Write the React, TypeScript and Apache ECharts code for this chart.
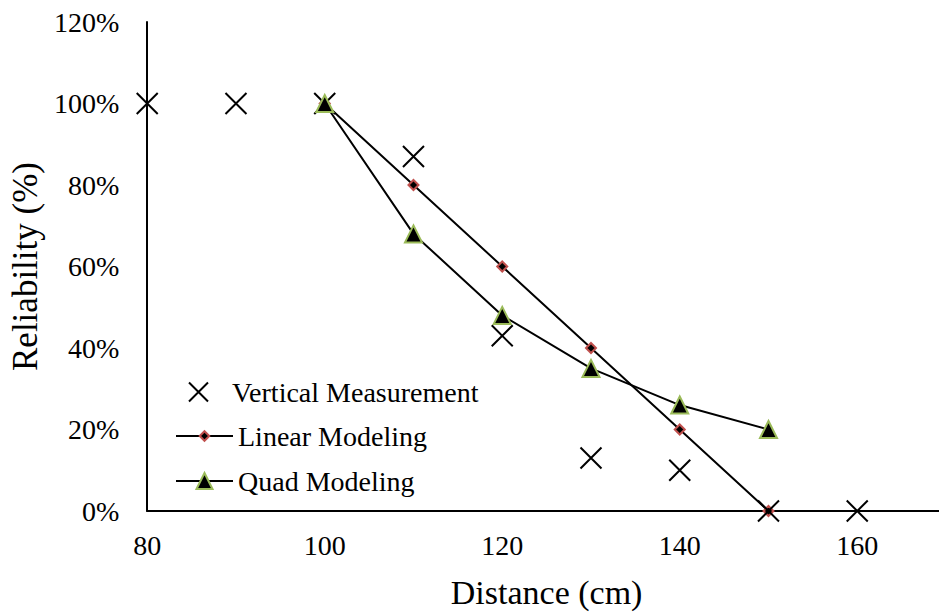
import React, { useEffect, useRef } from "react";
import * as echarts from "echarts";

const distances = [80, 90, 100, 110, 120, 130, 140, 150, 160];
const verticalMeasurement = [100, 100, 100, 87, 43, 13, 10, 0, 0];
const modelDistances = [100, 110, 120, 130, 140, 150];
const linearModeling = [100, 80, 60, 40, 20, 0];
const quadModeling = [100, 68, 48, 35, 26, 20];
const seriesNames = ["Vertical Measurement", "Linear Modeling", "Quad Modeling"];

const FONT = "'Liberation Serif', 'Times New Roman', serif";
const X_PATH = "path://M0,0L20,20M20,0L0,20";

export default function App() {
  const ref = useRef<HTMLDivElement>(null);
  useEffect(() => {
    if (!ref.current) return;
    const chart = echarts.init(ref.current, undefined, { renderer: "svg" });
    const pair = (xs: number[], ys: number[]) => xs.map((x, i) => [x, ys[i]]);
    const legendBase = {
      orient: "vertical" as const,
      left: 170,
      itemWidth: 57,
      itemGap: 0,
      textStyle: { fontFamily: FONT, fontSize: 28, color: "#000" },
      selectedMode: false,
    };
    chart.setOption({
      animation: false,
      backgroundColor: "#fff",
      grid: { left: 145, right: 0, top: 22, bottom: 102 },
      xAxis: {
        type: "value",
        min: 80,
        max: 170,
        interval: 20,
        name: "Distance (cm)",
        nameLocation: "middle",
        nameGap: 64,
        nameTextStyle: { fontFamily: FONT, fontSize: 34, color: "#000" },
        axisLine: { show: true, lineStyle: { color: "#000", width: 2 } },
        axisTick: { show: false },
        splitLine: { show: false },
        axisLabel: {
          fontFamily: FONT,
          fontSize: 28,
          color: "#000",
          margin: 20,
          showMaxLabel: false,
        },
      },
      yAxis: {
        type: "value",
        min: 0,
        max: 120,
        interval: 20,
        name: "Reliability (%)",
        nameLocation: "middle",
        nameGap: 100,
        nameTextStyle: { fontFamily: FONT, fontSize: 35, color: "#000" },
        axisLine: { show: true, lineStyle: { color: "#000", width: 2 } },
        axisTick: { show: false },
        splitLine: { show: false },
        axisLabel: {
          fontFamily: FONT,
          fontSize: 28,
          color: "#000",
          margin: 28,
          formatter: "{value}%",
        },
      },
      legend: [
        {
          ...legendBase,
          left: 183,
          top: 373,
          itemHeight: 19,
          data: [seriesNames[0]],
          itemStyle: { color: "transparent", borderColor: "#000", borderWidth: 2, opacity: 1 },
        },
        {
          ...legendBase,
          top: 417,
          itemHeight: 12,
          data: [seriesNames[1]],
        },
        {
          ...legendBase,
          top: 462,
          itemHeight: 20,
          data: [seriesNames[2]],
        },
      ],
      series: [
        {
          name: seriesNames[1],
          type: "line",
          data: pair(modelDistances, linearModeling),
          symbol: "diamond",
          symbolSize: 10,
          lineStyle: { color: "#000", width: 2 },
          itemStyle: { color: "#000", borderColor: "#C0504D", borderWidth: 2 },
          z: 2,
        },
        {
          name: seriesNames[0],
          type: "scatter",
          data: pair(distances, verticalMeasurement),
          symbol: X_PATH,
          symbolSize: 21,
          itemStyle: { color: "transparent", borderColor: "#000", borderWidth: 2, opacity: 1 },
          z: 3,
        },
        {
          name: seriesNames[2],
          type: "line",
          data: pair(modelDistances, quadModeling),
          symbol: "triangle",
          symbolSize: 17,
          lineStyle: { color: "#000", width: 2 },
          itemStyle: { color: "#000", borderColor: "#9BBB59", borderWidth: 2 },
          z: 4,
        },
      ],
    });
    return () => chart.dispose();
  }, []);
  return (
    <div style={{ width: 939, height: 614, position: "absolute", left: 0, top: 0, overflow: "hidden" }}>
      <div ref={ref} style={{ width: 946, height: 614 }} />
    </div>
  );
}
